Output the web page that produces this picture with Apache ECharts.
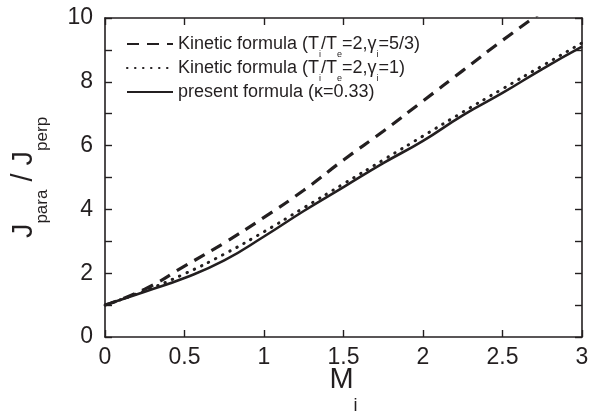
<!DOCTYPE html>
<html>
<head>
<meta charset="utf-8">
<script src="https://cdn.jsdelivr.net/npm/echarts@6/dist/echarts.min.js"></script>
<style>html,body{margin:0;padding:0;background:#fff}#c{width:590px;height:416px}</style>
</head>
<body>
<div id="c"></div>
<script>
const xValues = [0, 0.25, 0.5, 0.75, 1.0, 1.25, 1.5, 1.75, 2.0, 2.25, 2.5, 2.75];
const xValuesFull = [0, 0.25, 0.5, 0.75, 1.0, 1.25, 1.5, 1.75, 2.0, 2.25, 2.5, 2.75, 3.0];
const kineticGamma53 = [1.0, 1.5, 2.22, 2.95, 3.75, 4.6, 5.55, 6.45, 7.4, 8.35, 9.3, 10.2];
const kineticGamma1 = [1.0, 1.45, 1.98, 2.6, 3.3, 4.05, 4.8, 5.55, 6.3, 7.05, 7.78, 8.5, 9.22];
const presentFormula = [1.0, 1.42, 1.85, 2.4, 3.15, 3.95, 4.7, 5.45, 6.15, 6.95, 7.65, 8.4, 9.1];
const seriesNames = ['Kinetic formula (T{s|i}/T{s|e}=2,γ{s|i}=5/3)', 'Kinetic formula (T{s|i}/T{s|e}=2,γ{s|i}=1)', 'present formula (κ=0.33)'];
const xTicks = [0, 0.5, 1, 1.5, 2, 2.5, 3];
const yTicks = [0, 2, 4, 6, 8, 10];

const ink = '#231f20';
const font = 'Liberation Sans, Arial, sans-serif';
const chart = echarts.init(document.getElementById('c'), null, {renderer: 'canvas'});
const pairs = (xs, ys) => ys.map((y, i) => [xs[i], y]);

const axisCommon = {
  axisLine: {show: true, onZero: false, lineStyle: {color: ink, width: 1.6}},
  axisTick: {show: true, inside: true, length: 7, lineStyle: {color: ink, width: 1.4}},
  splitLine: {show: false}
};

chart.setOption({
  animation: false,
  backgroundColor: '#fff',
  grid: {left: 105, right: 8, top: 18, bottom: 79, containLabel: false, outerBoundsMode: 'none'},
  legend: {
    orient: 'vertical', left: 121, top: 30, itemWidth: 46, itemHeight: 14, itemGap: -0.5,
    itemStyle: {opacity: 0},
    data: seriesNames,
    textStyle: {fontFamily: font, fontSize: 18, color: ink,
      rich: {s: {fontSize: 9, fontFamily: font, color: ink, padding: [22, 0, 0, 0]}}}
  },
  xAxis: [
    Object.assign({}, axisCommon, {
      type: 'value', min: 0, max: 3, interval: 0.5, position: 'bottom',
      axisLabel: {color: ink, fontSize: 23, fontFamily: font, margin: 9,
        formatter: v => xTicks.includes(v) ? String(v) : ''},
      name: 'M{s|i}', nameLocation: 'middle', nameGap: 8, nameMoveOverlap: false,
      nameTextStyle: {color: ink, fontSize: 29, fontFamily: font,
        rich: {s: {fontSize: 18, fontFamily: font, color: ink, padding: [52, 0, 0, 0]}}}
    }),
    Object.assign({}, axisCommon, {
      type: 'value', min: 0, max: 3, interval: 0.5, position: 'top',
      axisLabel: {show: false}
    })
  ],
  yAxis: [
    Object.assign({}, axisCommon, {
      type: 'value', min: 0, max: 10, interval: 2, position: 'left',
      minorTick: {show: true, splitNumber: 2, length: 7, lineStyle: {color: ink, width: 1.4}},
      axisLabel: {color: ink, fontSize: 23, fontFamily: font, margin: 12,
        formatter: v => yTicks.includes(v) ? String(v) : ''},
      name: 'J{s|para} / J{s|perp}', nameLocation: 'middle', nameGap: 54, nameRotate: 90,
      nameMoveOverlap: false,
      nameTextStyle: {color: ink, fontSize: 29, fontFamily: font,
        rich: {s: {fontSize: 17, fontFamily: font, color: ink, padding: [38, 0, 0, 0]}}}
    }),
    Object.assign({}, axisCommon, {
      type: 'value', min: 0, max: 10, interval: 1, position: 'right',
      axisLabel: {show: false}
    })
  ],
  series: [
    {name: seriesNames[0], type: 'line', smooth: true, symbol: 'none', clip: true,
     data: pairs(xValues, kineticGamma53),
     lineStyle: {color: ink, width: 3.2, type: [12, 8]}, itemStyle: {color: ink}},
    {name: seriesNames[1], type: 'line', smooth: true, symbol: 'none', clip: true,
     data: pairs(xValuesFull, kineticGamma1),
     lineStyle: {color: ink, width: 3, type: [0.5, 7.5], cap: 'round'}, itemStyle: {color: ink}},
    {name: seriesNames[2], type: 'line', smooth: true, symbol: 'none', clip: true,
     data: pairs(xValuesFull, presentFormula),
     lineStyle: {color: ink, width: 2.6, type: 'solid'}, itemStyle: {color: ink}}
  ]
});
</script>
</body>
</html>
